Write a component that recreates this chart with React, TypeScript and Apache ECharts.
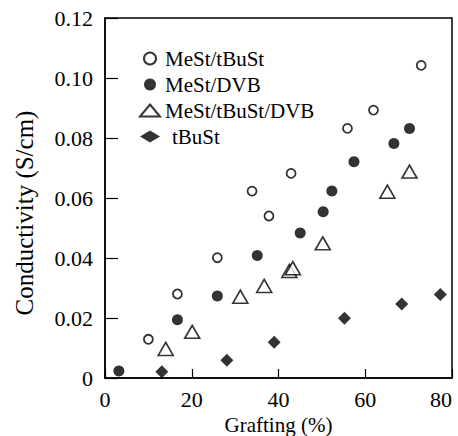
import React, { useEffect, useRef } from "react";
import * as echarts from "echarts";

const seriesNames = ["MeSt/tBuSt", "MeSt/DVB", "MeSt/tBuSt/DVB", "tBuSt"];
const xTitle = "Grafting (%)";
const yTitle = "Conductivity (S/cm)";

const openCircleX = [10.0, 16.7, 25.9, 33.9, 37.8, 42.9, 55.9, 61.9, 72.9];
const openCircleY = [0.0129, 0.028, 0.0401, 0.0623, 0.054, 0.0682, 0.0832, 0.0893, 0.1042];

const filledCircleX = [3.2, 16.7, 25.9, 35.1, 45.0, 50.3, 52.3, 57.4, 66.6, 70.2];
const filledCircleY = [0.0023, 0.0194, 0.0273, 0.0408, 0.0483, 0.0554, 0.0623, 0.0721, 0.0782, 0.0832];

const triangleX = [14.0, 20.1, 31.2, 36.7, 42.5, 43.3, 50.2, 65.1, 70.2];
const triangleY = [0.0097, 0.0154, 0.0271, 0.0307, 0.0357, 0.0366, 0.0449, 0.0621, 0.0688];

const diamondX = [13.1, 28.1, 39.0, 55.2, 68.4, 77.3];
const diamondY = [0.0021, 0.0059, 0.0119, 0.0199, 0.0247, 0.0278];

const xTicks = [0, 20, 40, 60, 80];
const yTicks = [0, 0.02, 0.04, 0.06, 0.08, 0.1, 0.12];

const FONT = "Liberation Serif";

const zip = (xs: number[], ys: number[]) => xs.map((x, i) => [x, ys[i]]);

export default function App() {
  const ref = useRef<HTMLDivElement>(null);
  useEffect(() => {
    if (!ref.current) return;
    const chart = echarts.init(ref.current, null, { renderer: "svg" });
    const black = "#000";
    chart.setOption({
      animation: false,
      backgroundColor: "#fff",
      textStyle: { fontFamily: FONT },
      grid: {
        left: 105,
        top: 18,
        right: 6,
        bottom: 58,
        containLabel: false,
        outerBoundsMode: "none",
        show: true,
        borderColor: black,
        borderWidth: 1.5,
        backgroundColor: "transparent",
      },
      graphic: [
        {
          type: "text",
          x: 24,
          y: 213,
          rotation: Math.PI / 2,
          silent: true,
          style: {
            text: yTitle,
            fontFamily: FONT,
            fontSize: 25,
            fill: black,
            align: "center",
            verticalAlign: "middle",
          },
        },
      ],
      legend: {
        orient: "vertical",
        left: 134,
        top: 43,
        itemWidth: 20,
        itemHeight: 12,
        itemGap: 5,
        selectedMode: false,
        textStyle: { fontFamily: FONT, fontSize: 21, color: black },
        data: [
          { name: seriesNames[0] },
          { name: seriesNames[1] },
          { name: seriesNames[2] },
          { name: seriesNames[3], textStyle: { fontFamily: FONT, fontSize: 21, color: black, padding: [0, 0, 0, 7] } },
        ],
      },
      xAxis: {
        type: "value",
        min: xTicks[0],
        max: xTicks[xTicks.length - 1],
        interval: xTicks[1] - xTicks[0],
        name: xTitle,
        nameLocation: "middle",
        nameGap: 29,
        nameTextStyle: { fontFamily: FONT, fontSize: 21, color: black },
        axisLine: { show: true, lineStyle: { color: black, width: 1.5 } },
        axisTick: { show: true, inside: true, length: 9, lineStyle: { color: black, width: 1.2 } },
        axisLabel: { fontFamily: FONT, fontSize: 22, color: black, margin: 10, alignMaxLabel: "right" },
        splitLine: { show: false },
      },
      yAxis: {
        type: "value",
        min: yTicks[0],
        max: yTicks[yTicks.length - 1],
        interval: yTicks[1] - yTicks[0],
        axisLine: { show: true, lineStyle: { color: black, width: 1.5 } },
        axisTick: { show: true, inside: true, length: 13, lineStyle: { color: black, width: 1.2 } },
        axisLabel: {
          fontFamily: FONT,
          fontSize: 22,
          color: black,
          margin: 12,
          formatter: (v: number) => (v === 0 ? "0" : v.toFixed(2)),
        },
        splitLine: { show: false },
      },
      series: [
        {
          name: seriesNames[0],
          type: "scatter",
          symbol: "circle",
          symbolSize: 9,
          itemStyle: { color: "#fff", borderColor: black, borderWidth: 1.8 },
          data: zip(openCircleX, openCircleY),
        },
        {
          name: seriesNames[1],
          type: "scatter",
          symbol: "circle",
          symbolSize: 11,
          itemStyle: { color: black },
          data: zip(filledCircleX, filledCircleY),
        },
        {
          name: seriesNames[2],
          type: "scatter",
          symbol: "triangle",
          symbolSize: [15, 13],
          itemStyle: { color: "#fff", borderColor: black, borderWidth: 1.6 },
          data: zip(triangleX, triangleY),
        },
        {
          name: seriesNames[3],
          type: "scatter",
          symbol: "diamond",
          symbolSize: 13,
          itemStyle: { color: black },
          data: zip(diamondX, diamondY),
        },
      ],
    });
    return () => chart.dispose();
  }, []);
  return (
    <div
      ref={ref}
      style={{ position: "fixed", left: 0, top: 0, width: 458, height: 436, background: "#fff" }}
    />
  );
}
